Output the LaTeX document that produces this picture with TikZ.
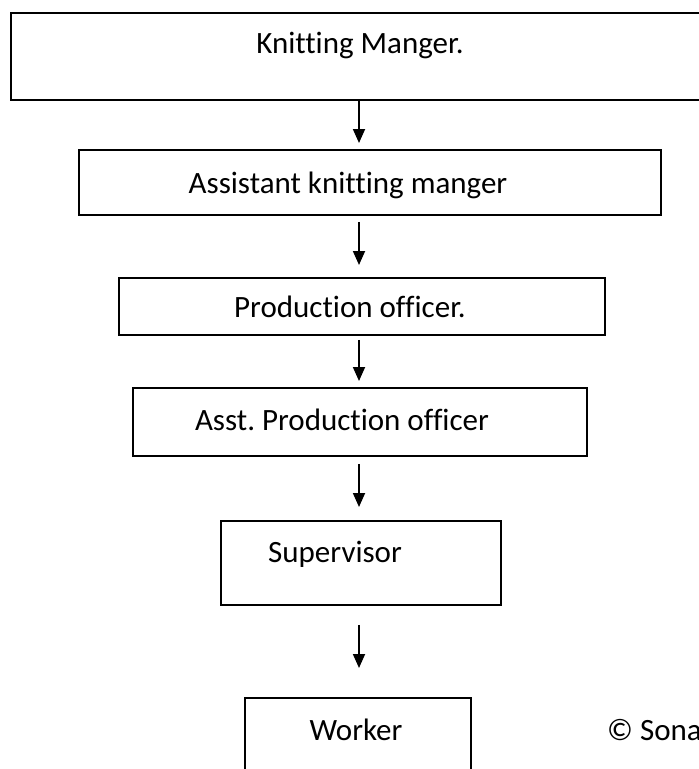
\documentclass[tikz,border=0pt]{standalone}
\usepackage{fontspec}
\setmainfont{Carlito}[Ligatures=NoCommon]
\usetikzlibrary{arrows.meta}
\frenchspacing
\begin{document}
\begin{tikzpicture}[x=1pt,y=-1pt,
  box/.style={draw=black, line width=1.8pt, inner sep=0pt, anchor=north west},
  lbl/.style={font=\fontsize{31}{36}\selectfont, inner sep=0pt, anchor=base},
  arr/.style={line width=1.8pt, -{Triangle[length=14pt,width=12pt]}}]
\useasboundingbox (0,0) rectangle (699,769);
\clip (0,0) rectangle (699,769);

% boxes of the hierarchy
\node[box, minimum width=730pt, minimum height=87pt] (b1) at (10,12) {};
\node[box, minimum width=582pt, minimum height=65pt] (b2) at (78,149) {};
\node[box, minimum width=486pt, minimum height=57pt] (b3) at (118,277) {};
\node[box, minimum width=454pt, minimum height=68pt] (b4) at (132,387) {};
\node[box, minimum width=280pt, minimum height=84pt] (b5) at (220,520) {};
\node[box, minimum width=226pt, minimum height=100pt] (b6) at (244,697) {};

% titles
\node[lbl] (t1) at (360,53) {Knitting Manger.};
\node[lbl] (t2) at (348,193) {Assistant knitting manger};
\node[lbl] (t3) at (350,317) {Production officer.};
\node[lbl] (t4) at (342,430) {Asst. Production officer};
\node[lbl, anchor=base west] (t5) at (268,562) {Supervisor};
\node[lbl] (t6) at (356,740) {Worker};
\node[lbl, anchor=base west] (cr) at (607,740) {© Sona};

% arrows between levels
\coordinate (ax) at (359,0);
\draw[arr, shorten >=6pt] (b1.south -| ax) -- (b2.north -| ax);
\draw[arr, shorten <=6pt, shorten >=12pt] (b2.south -| ax) -- (b3.north -| ax);
\draw[arr, shorten <=4pt, shorten >=6pt] (b3.south -| ax) -- (b4.north -| ax);
\draw[arr, shorten <=7pt, shorten >=13pt] (b4.south -| ax) -- (b5.north -| ax);
\draw[arr, shorten <=19pt, shorten >=29pt] (b5.south -| ax) -- (b6.north -| ax);
\end{tikzpicture}
\end{document}
